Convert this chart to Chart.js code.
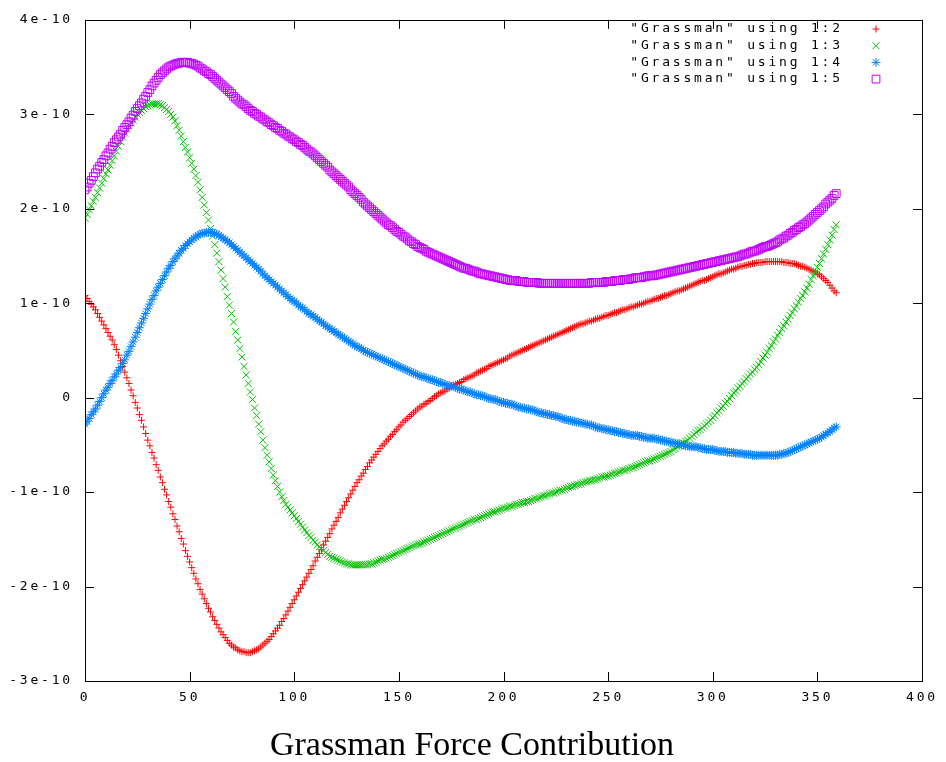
<!DOCTYPE html>
<html>
<head>
<meta charset="utf-8">
<title>Grassman Force Contribution</title>
<script src="https://cdn.jsdelivr.net/npm/chart.js@4.4.1/dist/chart.umd.min.js"></script>
<style>
  html, body { margin: 0; padding: 0; background: #fff; }
  canvas { display: block; }
</style>
</head>
<body>
<canvas id="grassChart" width="946" height="762"></canvas>
<script>
// angle column (1) of "Grassman", one row per degree
const angles = [
    0,   1,   2,   3,   4,   5,   6,   7,   8,   9,  10,  11,  12,  13,  14,  15,  16,  17,  18,  19,
   20,  21,  22,  23,  24,  25,  26,  27,  28,  29,  30,  31,  32,  33,  34,  35,  36,  37,  38,  39,
   40,  41,  42,  43,  44,  45,  46,  47,  48,  49,  50,  51,  52,  53,  54,  55,  56,  57,  58,  59,
   60,  61,  62,  63,  64,  65,  66,  67,  68,  69,  70,  71,  72,  73,  74,  75,  76,  77,  78,  79,
   80,  81,  82,  83,  84,  85,  86,  87,  88,  89,  90,  91,  92,  93,  94,  95,  96,  97,  98,  99,
  100, 101, 102, 103, 104, 105, 106, 107, 108, 109, 110, 111, 112, 113, 114, 115, 116, 117, 118, 119,
  120, 121, 122, 123, 124, 125, 126, 127, 128, 129, 130, 131, 132, 133, 134, 135, 136, 137, 138, 139,
  140, 141, 142, 143, 144, 145, 146, 147, 148, 149, 150, 151, 152, 153, 154, 155, 156, 157, 158, 159,
  160, 161, 162, 163, 164, 165, 166, 167, 168, 169, 170, 171, 172, 173, 174, 175, 176, 177, 178, 179,
  180, 181, 182, 183, 184, 185, 186, 187, 188, 189, 190, 191, 192, 193, 194, 195, 196, 197, 198, 199,
  200, 201, 202, 203, 204, 205, 206, 207, 208, 209, 210, 211, 212, 213, 214, 215, 216, 217, 218, 219,
  220, 221, 222, 223, 224, 225, 226, 227, 228, 229, 230, 231, 232, 233, 234, 235, 236, 237, 238, 239,
  240, 241, 242, 243, 244, 245, 246, 247, 248, 249, 250, 251, 252, 253, 254, 255, 256, 257, 258, 259,
  260, 261, 262, 263, 264, 265, 266, 267, 268, 269, 270, 271, 272, 273, 274, 275, 276, 277, 278, 279,
  280, 281, 282, 283, 284, 285, 286, 287, 288, 289, 290, 291, 292, 293, 294, 295, 296, 297, 298, 299,
  300, 301, 302, 303, 304, 305, 306, 307, 308, 309, 310, 311, 312, 313, 314, 315, 316, 317, 318, 319,
  320, 321, 322, 323, 324, 325, 326, 327, 328, 329, 330, 331, 332, 333, 334, 335, 336, 337, 338, 339,
  340, 341, 342, 343, 344, 345, 346, 347, 348, 349, 350, 351, 352, 353, 354, 355, 356, 357, 358, 359
];

// columns 2..5, in units of 1e-10, ten degrees per row
const col2 = [
   1.08,  1.05,  1.02,  0.99,  0.96,  0.93,  0.89,  0.85,  0.81,  0.77,
   0.73,  0.69,  0.65,  0.61,  0.56,  0.51,  0.45,  0.39,  0.33,  0.27,
   0.21,  0.15,  0.08,  0.02, -0.05, -0.11, -0.18, -0.24, -0.31, -0.38,
  -0.45, -0.51, -0.58, -0.64, -0.71, -0.77, -0.84, -0.90, -0.97, -1.03,
  -1.10, -1.16, -1.23, -1.29, -1.36, -1.42, -1.49, -1.55, -1.62, -1.68,
  -1.74, -1.80, -1.86, -1.92, -1.97, -2.03, -2.08, -2.13, -2.18, -2.23,
  -2.27, -2.32, -2.36, -2.40, -2.44, -2.48, -2.51, -2.54, -2.57, -2.60,
  -2.62, -2.64, -2.65, -2.67, -2.68, -2.69, -2.69, -2.70, -2.70, -2.70,
  -2.69, -2.68, -2.67, -2.66, -2.64, -2.62, -2.60, -2.58, -2.56, -2.53,
  -2.50, -2.47, -2.44, -2.41, -2.37, -2.34, -2.30, -2.26, -2.22, -2.18,
  -2.14, -2.10, -2.06, -2.02, -1.98, -1.94, -1.90, -1.86, -1.82, -1.78,
  -1.73, -1.69, -1.65, -1.61, -1.56, -1.52, -1.48, -1.44, -1.39, -1.35,
  -1.31, -1.27, -1.22, -1.18, -1.14, -1.10, -1.06, -1.02, -0.98, -0.94,
  -0.90, -0.87, -0.83, -0.80, -0.76, -0.73, -0.69, -0.66, -0.63, -0.60,
  -0.57, -0.54, -0.51, -0.49, -0.46, -0.44, -0.41, -0.39, -0.36, -0.34,
  -0.31, -0.29, -0.26, -0.24, -0.22, -0.20, -0.18, -0.16, -0.14, -0.12,
  -0.10, -0.09, -0.07, -0.06, -0.04, -0.03, -0.01,  0.01,  0.02,  0.04,
   0.05,  0.06,  0.07,  0.09,  0.10,  0.12,  0.13,  0.14,  0.15,  0.16,
   0.17,  0.19,  0.20,  0.21,  0.22,  0.23,  0.24,  0.26,  0.27,  0.28,
   0.29,  0.30,  0.31,  0.33,  0.34,  0.35,  0.36,  0.37,  0.38,  0.39,
   0.40,  0.41,  0.42,  0.44,  0.45,  0.46,  0.47,  0.48,  0.49,  0.50,
   0.51,  0.52,  0.53,  0.54,  0.55,  0.56,  0.57,  0.58,  0.59,  0.60,
   0.61,  0.62,  0.63,  0.64,  0.65,  0.66,  0.67,  0.68,  0.69,  0.70,
   0.71,  0.72,  0.73,  0.74,  0.75,  0.76,  0.77,  0.78,  0.78,  0.79,
   0.80,  0.81,  0.81,  0.82,  0.83,  0.84,  0.84,  0.85,  0.86,  0.87,
   0.87,  0.88,  0.89,  0.90,  0.90,  0.91,  0.92,  0.93,  0.93,  0.94,
   0.95,  0.96,  0.96,  0.97,  0.98,  0.99,  0.99,  1.00,  1.01,  1.02,
   1.02,  1.03,  1.04,  1.05,  1.05,  1.06,  1.07,  1.08,  1.08,  1.09,
   1.10,  1.11,  1.12,  1.13,  1.13,  1.14,  1.15,  1.16,  1.17,  1.18,
   1.19,  1.20,  1.21,  1.22,  1.23,  1.24,  1.24,  1.25,  1.26,  1.27,
   1.28,  1.29,  1.30,  1.31,  1.31,  1.32,  1.33,  1.34,  1.35,  1.36,
   1.36,  1.37,  1.38,  1.39,  1.39,  1.40,  1.40,  1.41,  1.41,  1.42,
   1.42,  1.43,  1.43,  1.43,  1.43,  1.44,  1.44,  1.44,  1.44,  1.44,
   1.44,  1.44,  1.44,  1.44,  1.43,  1.43,  1.43,  1.42,  1.42,  1.42,
   1.41,  1.40,  1.39,  1.39,  1.38,  1.37,  1.36,  1.35,  1.34,  1.33,
   1.31,  1.30,  1.28,  1.26,  1.24,  1.22,  1.19,  1.16,  1.13,  1.11
];
const col3 = [
   1.90,  1.94,  1.99,  2.03,  2.08,  2.12,  2.17,  2.22,  2.27,  2.32,
   2.37,  2.41,  2.46,  2.51,  2.56,  2.61,  2.66,  2.71,  2.76,  2.80,
   2.84,  2.88,  2.91,  2.94,  2.97,  3.00,  3.02,  3.04,  3.06,  3.08,
   3.09,  3.10,  3.11,  3.11,  3.11,  3.11,  3.10,  3.09,  3.07,  3.05,
   3.03,  3.00,  2.97,  2.93,  2.88,  2.83,  2.77,  2.71,  2.65,  2.60,
   2.54,  2.48,  2.42,  2.35,  2.28,  2.20,  2.12,  2.04,  1.96,  1.88,
   1.79,  1.71,  1.62,  1.53,  1.44,  1.35,  1.26,  1.17,  1.07,  0.98,
   0.89,  0.80,  0.70,  0.61,  0.52,  0.43,  0.33,  0.24,  0.15,  0.06,
  -0.02, -0.11, -0.19, -0.28, -0.36, -0.45, -0.53, -0.61, -0.68, -0.75,
  -0.82, -0.88, -0.94, -1.00, -1.05, -1.09, -1.13, -1.16, -1.19, -1.22,
  -1.25, -1.28, -1.31, -1.34, -1.37, -1.40, -1.43, -1.46, -1.48, -1.51,
  -1.53, -1.56, -1.58, -1.60, -1.62, -1.64, -1.66, -1.68, -1.69, -1.70,
  -1.71, -1.72, -1.73, -1.74, -1.75, -1.76, -1.76, -1.77, -1.77, -1.77,
  -1.77, -1.77, -1.77, -1.77, -1.77, -1.77, -1.76, -1.76, -1.75, -1.74,
  -1.73, -1.72, -1.71, -1.71, -1.70, -1.69, -1.68, -1.67, -1.66, -1.65,
  -1.64, -1.63, -1.62, -1.61, -1.60, -1.59, -1.58, -1.57, -1.56, -1.55,
  -1.55, -1.54, -1.53, -1.52, -1.51, -1.50, -1.49, -1.48, -1.47, -1.46,
  -1.45, -1.44, -1.43, -1.42, -1.41, -1.40, -1.39, -1.38, -1.37, -1.36,
  -1.35, -1.34, -1.33, -1.32, -1.31, -1.30, -1.29, -1.29, -1.28, -1.27,
  -1.26, -1.25, -1.24, -1.23, -1.22, -1.21, -1.21, -1.20, -1.19, -1.18,
  -1.17, -1.17, -1.16, -1.15, -1.15, -1.14, -1.13, -1.13, -1.12, -1.11,
  -1.11, -1.10, -1.10, -1.09, -1.08, -1.07, -1.07, -1.06, -1.05, -1.04,
  -1.04, -1.03, -1.02, -1.01, -1.01, -1.00, -0.99, -0.98, -0.98, -0.97,
  -0.96, -0.95, -0.94, -0.94, -0.93, -0.92, -0.92, -0.91, -0.90, -0.89,
  -0.89, -0.88, -0.88, -0.87, -0.87, -0.86, -0.85, -0.84, -0.84, -0.83,
  -0.83, -0.82, -0.81, -0.80, -0.80, -0.79, -0.78, -0.77, -0.77, -0.76,
  -0.75, -0.74, -0.74, -0.73, -0.72, -0.71, -0.70, -0.69, -0.68, -0.67,
  -0.67, -0.66, -0.65, -0.64, -0.63, -0.62, -0.61, -0.60, -0.59, -0.58,
  -0.57, -0.55, -0.54, -0.52, -0.51, -0.49, -0.48, -0.46, -0.45, -0.43,
  -0.41, -0.39, -0.37, -0.35, -0.34, -0.32, -0.30, -0.28, -0.26, -0.24,
  -0.21, -0.19, -0.16, -0.14, -0.11, -0.09, -0.06, -0.04, -0.01,  0.02,
   0.05,  0.07,  0.10,  0.12,  0.15,  0.17,  0.20,  0.22,  0.25,  0.27,
   0.30,  0.32,  0.35,  0.38,  0.42,  0.45,  0.48,  0.52,  0.55,  0.59,
   0.62,  0.66,  0.69,  0.73,  0.76,  0.80,  0.83,  0.87,  0.90,  0.94,
   0.97,  1.01,  1.05,  1.08,  1.12,  1.16,  1.20,  1.25,  1.29,  1.33,
   1.38,  1.42,  1.47,  1.52,  1.57,  1.62,  1.67,  1.72,  1.78,  1.83
];
const col4 = [
  -0.28, -0.25, -0.22, -0.18, -0.15, -0.12, -0.08, -0.04,  0.00,  0.04,
   0.08,  0.11,  0.15,  0.18,  0.22,  0.25,  0.29,  0.32,  0.36,  0.40,
   0.45,  0.49,  0.54,  0.59,  0.64,  0.69,  0.74,  0.79,  0.84,  0.89,
   0.94,  0.99,  1.04,  1.08,  1.13,  1.17,  1.21,  1.25,  1.29,  1.33,
   1.37,  1.40,  1.44,  1.47,  1.50,  1.53,  1.56,  1.58,  1.61,  1.63,
   1.65,  1.67,  1.69,  1.70,  1.72,  1.73,  1.74,  1.74,  1.75,  1.75,
   1.75,  1.75,  1.74,  1.73,  1.72,  1.70,  1.69,  1.67,  1.66,  1.64,
   1.62,  1.60,  1.58,  1.56,  1.54,  1.52,  1.50,  1.48,  1.46,  1.44,
   1.42,  1.40,  1.38,  1.36,  1.34,  1.31,  1.29,  1.27,  1.25,  1.23,
   1.21,  1.19,  1.17,  1.15,  1.13,  1.11,  1.09,  1.07,  1.05,  1.03,
   1.02,  1.00,  0.98,  0.96,  0.95,  0.93,  0.91,  0.89,  0.88,  0.86,
   0.85,  0.83,  0.81,  0.80,  0.78,  0.76,  0.75,  0.73,  0.72,  0.70,
   0.69,  0.67,  0.66,  0.64,  0.63,  0.61,  0.60,  0.58,  0.57,  0.55,
   0.54,  0.53,  0.52,  0.50,  0.49,  0.48,  0.47,  0.46,  0.45,  0.44,
   0.43,  0.42,  0.41,  0.40,  0.39,  0.38,  0.37,  0.36,  0.35,  0.34,
   0.33,  0.32,  0.31,  0.30,  0.29,  0.28,  0.27,  0.26,  0.25,  0.24,
   0.23,  0.22,  0.22,  0.21,  0.20,  0.19,  0.19,  0.18,  0.17,  0.16,
   0.16,  0.15,  0.14,  0.13,  0.13,  0.12,  0.12,  0.11,  0.10,  0.09,
   0.09,  0.08,  0.07,  0.06,  0.06,  0.05,  0.04,  0.03,  0.03,  0.02,
   0.02,  0.01,  0.00, -0.01, -0.01, -0.02, -0.02, -0.03, -0.04, -0.05,
  -0.05, -0.06, -0.06, -0.07, -0.07, -0.08, -0.09, -0.10, -0.10, -0.11,
  -0.11, -0.12, -0.12, -0.13, -0.13, -0.14, -0.15, -0.16, -0.16, -0.17,
  -0.17, -0.18, -0.18, -0.19, -0.19, -0.20, -0.20, -0.21, -0.22, -0.23,
  -0.23, -0.24, -0.24, -0.25, -0.25, -0.26, -0.26, -0.27, -0.27, -0.28,
  -0.28, -0.29, -0.29, -0.30, -0.31, -0.32, -0.32, -0.33, -0.33, -0.34,
  -0.34, -0.35, -0.35, -0.36, -0.36, -0.37, -0.37, -0.38, -0.38, -0.39,
  -0.39, -0.40, -0.40, -0.40, -0.40, -0.41, -0.41, -0.42, -0.42, -0.43,
  -0.43, -0.43, -0.43, -0.44, -0.44, -0.45, -0.45, -0.46, -0.46, -0.47,
  -0.47, -0.48, -0.48, -0.49, -0.49, -0.50, -0.50, -0.51, -0.51, -0.52,
  -0.52, -0.52, -0.52, -0.53, -0.53, -0.54, -0.54, -0.55, -0.55, -0.55,
  -0.55, -0.56, -0.56, -0.57, -0.57, -0.57, -0.57, -0.58, -0.58, -0.58,
  -0.58, -0.59, -0.59, -0.59, -0.59, -0.60, -0.60, -0.60, -0.60, -0.61,
  -0.61, -0.61, -0.61, -0.61, -0.61, -0.61, -0.61, -0.61, -0.61, -0.61,
  -0.61, -0.61, -0.60, -0.60, -0.59, -0.59, -0.58, -0.57, -0.56, -0.55,
  -0.54, -0.53, -0.52, -0.51, -0.50, -0.49, -0.48, -0.47, -0.46, -0.45,
  -0.44, -0.43, -0.42, -0.40, -0.39, -0.37, -0.36, -0.34, -0.32, -0.31
];
const col5 = [
   2.20,  2.23,  2.27,  2.30,  2.34,  2.38,  2.42,  2.45,  2.49,  2.52,
   2.56,  2.59,  2.63,  2.66,  2.70,  2.73,  2.76,  2.79,  2.83,  2.86,
   2.89,  2.92,  2.96,  2.99,  3.03,  3.06,  3.09,  3.12,  3.16,  3.19,
   3.23,  3.26,  3.30,  3.33,  3.36,  3.39,  3.42,  3.44,  3.46,  3.48,
   3.50,  3.51,  3.52,  3.53,  3.54,  3.54,  3.55,  3.55,  3.55,  3.55,
   3.54,  3.54,  3.53,  3.52,  3.51,  3.49,  3.48,  3.46,  3.45,  3.43,
   3.42,  3.40,  3.38,  3.36,  3.34,  3.32,  3.30,  3.28,  3.26,  3.24,
   3.22,  3.19,  3.17,  3.15,  3.13,  3.11,  3.10,  3.08,  3.06,  3.04,
   3.03,  3.01,  3.00,  2.98,  2.97,  2.95,  2.94,  2.92,  2.91,  2.89,
   2.88,  2.86,  2.85,  2.83,  2.82,  2.80,  2.79,  2.77,  2.76,  2.74,
   2.73,  2.71,  2.70,  2.68,  2.67,  2.65,  2.63,  2.61,  2.60,  2.58,
   2.56,  2.54,  2.52,  2.50,  2.48,  2.46,  2.44,  2.41,  2.39,  2.37,
   2.35,  2.33,  2.31,  2.29,  2.27,  2.25,  2.23,  2.20,  2.18,  2.16,
   2.14,  2.12,  2.10,  2.07,  2.05,  2.03,  2.01,  1.99,  1.97,  1.95,
   1.93,  1.91,  1.89,  1.87,  1.85,  1.83,  1.82,  1.80,  1.78,  1.76,
   1.75,  1.73,  1.71,  1.70,  1.68,  1.66,  1.65,  1.63,  1.62,  1.60,
   1.59,  1.58,  1.57,  1.55,  1.54,  1.53,  1.52,  1.51,  1.50,  1.49,
   1.48,  1.47,  1.46,  1.45,  1.44,  1.43,  1.42,  1.41,  1.40,  1.39,
   1.38,  1.37,  1.37,  1.36,  1.35,  1.34,  1.34,  1.33,  1.32,  1.31,
   1.31,  1.30,  1.30,  1.29,  1.29,  1.28,  1.28,  1.27,  1.27,  1.26,
   1.26,  1.25,  1.25,  1.24,  1.24,  1.24,  1.24,  1.23,  1.23,  1.23,
   1.23,  1.22,  1.22,  1.22,  1.22,  1.22,  1.22,  1.21,  1.21,  1.21,
   1.21,  1.21,  1.21,  1.21,  1.21,  1.21,  1.21,  1.21,  1.21,  1.21,
   1.21,  1.21,  1.21,  1.21,  1.21,  1.21,  1.21,  1.21,  1.21,  1.21,
   1.21,  1.21,  1.22,  1.22,  1.22,  1.22,  1.22,  1.22,  1.22,  1.23,
   1.23,  1.23,  1.23,  1.24,  1.24,  1.24,  1.24,  1.25,  1.25,  1.25,
   1.25,  1.26,  1.26,  1.27,  1.27,  1.27,  1.27,  1.28,  1.28,  1.29,
   1.29,  1.29,  1.29,  1.30,  1.30,  1.31,  1.31,  1.32,  1.32,  1.33,
   1.33,  1.34,  1.34,  1.35,  1.35,  1.36,  1.36,  1.37,  1.37,  1.38,
   1.38,  1.39,  1.39,  1.40,  1.40,  1.41,  1.41,  1.42,  1.42,  1.43,
   1.43,  1.44,  1.44,  1.45,  1.45,  1.46,  1.46,  1.47,  1.47,  1.48,
   1.48,  1.49,  1.49,  1.50,  1.51,  1.52,  1.52,  1.53,  1.54,  1.55,
   1.55,  1.56,  1.57,  1.58,  1.59,  1.60,  1.60,  1.61,  1.62,  1.63,
   1.64,  1.65,  1.67,  1.68,  1.69,  1.71,  1.72,  1.74,  1.75,  1.77,
   1.78,  1.80,  1.81,  1.83,  1.84,  1.86,  1.88,  1.90,  1.92,  1.94,
   1.96,  1.98,  2.00,  2.02,  2.05,  2.07,  2.09,  2.11,  2.14,  2.16
];

const seriesLabels = [
  '"Grassman" using 1:2',
  '"Grassman" using 1:3',
  '"Grassman" using 1:4',
  '"Grassman" using 1:5'
];
const xTickLabels = ['0', '50', '100', '150', '200', '250', '300', '350', '400'];
const yTickLabels = ['-3e-10', '-2e-10', '-1e-10', '0', '1e-10', '2e-10', '3e-10', '4e-10'];
const chartTitle = 'Grassman Force Contribution';

const monoFont = '13px "DejaVu Sans Mono", monospace';

function toPoints(ys) {
    return angles.map((a, i) => ({ x: a, y: ys[i] }));
}

// gnuplot look: box border, inward ticks on all four sides, key at top right, title below
const gnuplotFrame = {
    id: 'gnuplotFrame',
    beforeDraw(chart) {
        chart.ctx.letterSpacing = '2.8px'; // the png terminal font is wide
    },
    afterDraw(chart) {
        const ctx = chart.ctx;
        const a = chart.chartArea;
        const xs = chart.scales.x;
        const ys = chart.scales.y;
        ctx.save();
        ctx.strokeStyle = '#000';
        ctx.lineWidth = 1;
        ctx.strokeRect(Math.round(a.left) + 0.5, Math.round(a.top) + 0.5,
            Math.round(a.right - a.left), Math.round(a.bottom - a.top));

        ctx.beginPath();
        xs.ticks.forEach(t => {
            const px = Math.round(xs.getPixelForValue(t.value)) + 0.5;
            ctx.moveTo(px, a.bottom); ctx.lineTo(px, a.bottom - 9);
            ctx.moveTo(px, a.top); ctx.lineTo(px, a.top + 9);
        });
        ys.ticks.forEach(t => {
            const py = Math.round(ys.getPixelForValue(t.value)) + 0.5;
            ctx.moveTo(a.left, py); ctx.lineTo(a.left + 9, py);
            ctx.moveTo(a.right, py); ctx.lineTo(a.right - 9, py);
        });
        ctx.stroke();

        // key
        ctx.font = monoFont;
        ctx.textAlign = 'right';
        ctx.textBaseline = 'middle';
        chart.data.datasets.forEach((ds, i) => {
            const rowY = 29 + i * 16.7;
            ctx.fillStyle = '#000';
            ctx.fillText(ds.label, 842.8, rowY);
            ctx.strokeStyle = ds.borderColor;
            ctx.fillStyle = 'rgba(0,0,0,0)';
            ctx.lineWidth = 1;
            Chart.helpers.drawPoint(ctx, {
                pointStyle: ds.pointStyle,
                radius: ds.pointRadius,
                rotation: 0,
                borderWidth: 1
            }, 876, rowY);
        });

        // title
        ctx.letterSpacing = '0px';
        ctx.font = '34px "Liberation Serif", "DejaVu Serif", serif';
        ctx.textAlign = 'center';
        ctx.textBaseline = 'alphabetic';
        ctx.fillStyle = '#000';
        ctx.fillText(chartTitle, 472, 755);
        ctx.restore();
    }
};

const colors = ['#ff0000', '#00c000', '#0080ff', '#c000ff'];
const styles = ['cross', 'crossRot', 'star', 'rect'];
const radii = [3.5, 5, 4.5, 5.5];
const columns = [col2, col3, col4, col5];

const datasets = columns.map((col, i) => ({
    label: seriesLabels[i],
    data: toPoints(col),
    showLine: false,
    pointStyle: styles[i],
    pointRadius: radii[i],
    pointBorderWidth: 1,
    borderColor: colors[i],
    backgroundColor: 'rgba(0,0,0,0)',
    order: 4 - i
}));

const ctx = document.getElementById('grassChart').getContext('2d');
new Chart(ctx, {
    type: 'scatter',
    data: { datasets: datasets },
    options: {
        responsive: false,
        animation: false,
        events: [],
        layout: { padding: { left: 0, right: 24, top: 13, bottom: 50 } },
        plugins: {
            legend: { display: false },
            tooltip: { enabled: false },
            title: { display: false }
        },
        scales: {
            x: {
                type: 'linear',
                min: 0,
                max: 400,
                border: { display: false },
                grid: { display: false, drawTicks: false },
                ticks: {
                    stepSize: 50,
                    padding: 9,
                    maxRotation: 0,
                    autoSkip: false,
                    color: '#000',
                    font: { family: '"DejaVu Sans Mono", monospace', size: 13 },
                    callback: (v) => xTickLabels[Math.round(v / 50)]
                },
                afterFit(scale) { scale.height = 31; }
            },
            y: {
                type: 'linear',
                min: -3,
                max: 4,
                border: { display: false },
                grid: { display: false, drawTicks: false },
                ticks: {
                    stepSize: 1,
                    padding: 12,
                    color: '#000',
                    font: { family: '"DejaVu Sans Mono", monospace', size: 13 },
                    callback: (v) => yTickLabels[Math.round(v) + 3]
                },
                afterFit(scale) { scale.width = 85; }
            }
        }
    },
    plugins: [gnuplotFrame]
});
</script>
</body>
</html>
